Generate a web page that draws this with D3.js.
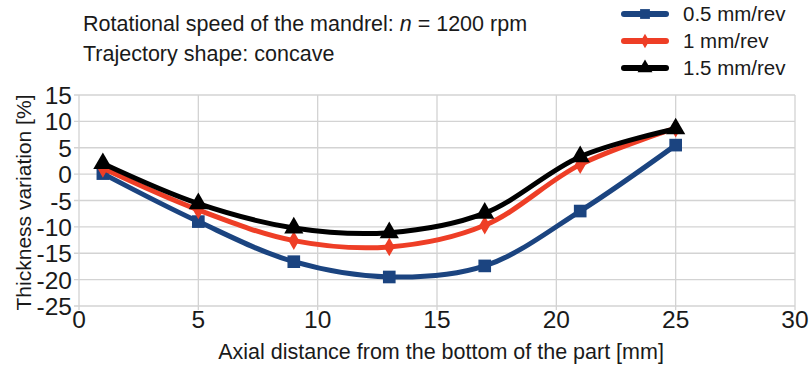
<!DOCTYPE html>
<html>
<head>
<meta charset="utf-8">
<script src="https://cdn.jsdelivr.net/npm/d3@7"></script>
<style>
  body { margin: 0; background: #fff; }
  text { font-family: "Liberation Sans", Arial, sans-serif; fill: #1a1a1a; }
  .tick { font-family: "Liberation Sans Narrow", "Arial Narrow", "Liberation Sans", sans-serif; }
</style>
</head>
<body>
<main></main>
<script>
// values
const distances = [1, 5, 9, 13, 17, 21, 25];
const feed05 = [0.1, -9.0, -16.6, -19.5, -17.4, -7.0, 5.5];
const feed10 = [1.1, -6.8, -12.6, -13.8, -9.7, 1.8, 8.7];
const feed15 = [2.0, -5.6, -10.2, -11.1, -7.4, 3.3, 8.6];
const seriesNames = ["0.5 mm/rev", "1 mm/rev", "1.5 mm/rev"];
const xTicks = [0, 5, 10, 15, 20, 25, 30];
const yTicks = [15, 10, 5, 0, -5, -10, -15, -20, -25];

const colours = ["#1b4480", "#ee3e26", "#000000"];
const symbols = [d3.symbolSquare, d3.symbolDiamond, d3.symbolTriangle];
const symbolSizes = [160, 100, 160];

const width = 809, height = 368;
const svg = d3.select("main").append("svg").attr("width", width).attr("height", height);

const x = d3.scaleLinear().domain([0, 30]).range([79, 795]);
const y = d3.scaleLinear().domain([-25, 15]).range([306, 95]);

// grid
svg.append("g").selectAll("line").data(yTicks).enter().append("line")
   .attr("x1", x(0) - 5).attr("x2", x(30))
   .attr("y1", d => y(d)).attr("y2", d => y(d))
   .attr("stroke", "#d3d3d3").attr("stroke-width", 1.3);
svg.append("g").selectAll("line").data(xTicks).enter().append("line")
   .attr("x1", d => x(d)).attr("x2", d => x(d))
   .attr("y1", y(15)).attr("y2", y(-25) + 4)
   .attr("stroke", "#d3d3d3").attr("stroke-width", 1.3);

// tick labels
svg.append("g").selectAll("text").data(yTicks).enter().append("text")
   .attr("class", "tick")
   .attr("x", x(0) - 7).attr("y", d => y(d) + 9)
   .attr("text-anchor", "end").attr("font-size", 24.5)
   .text(d => d);
svg.append("g").selectAll("text").data(xTicks).enter().append("text")
   .attr("class", "tick")
   .attr("x", d => x(d)).attr("y", y(-25) + 22)
   .attr("text-anchor", "middle").attr("font-size", 24.5)
   .text(d => d);

// axis titles
svg.append("text")
   .attr("transform", `translate(31,${(y(15) + y(-25)) / 2 + 2}) rotate(-90)`)
   .attr("text-anchor", "middle").attr("font-size", 21)
   .text("Thickness variation [%]");
svg.append("text")
   .attr("x", 441).attr("y", 359)
   .attr("text-anchor", "middle").attr("font-size", 21.5)
   .text("Axial distance from the bottom of the part [mm]");

// series
const allSeries = [feed05, feed10, feed15];
const line = d3.line()
   .x((d, i) => x(distances[i]))
   .y(d => y(d))
   .curve(d3.curveCatmullRom.alpha(0.5));

allSeries.forEach((vals, k) => {
  const g = svg.append("g");
  g.append("path").datum(vals)
   .attr("d", line)
   .attr("fill", "none").attr("stroke", colours[k])
   .attr("stroke-width", 5).attr("stroke-linejoin", "round");
  g.selectAll("path.pt").data(vals).enter().append("path")
   .attr("class", "pt")
   .attr("transform", (d, i) => `translate(${x(distances[i])},${y(d)})`)
   .attr("d", d3.symbol().type(symbols[k]).size(symbolSizes[k]))
   .attr("fill", colours[k]);
});

// header text
const header = svg.append("text").attr("x", 83).attr("y", 31).attr("font-size", 21.5);
header.append("tspan").text("Rotational speed of the mandrel:  ");
header.append("tspan").attr("font-style", "italic").text("n");
header.append("tspan").text(" = 1200 rpm");
svg.append("text").attr("x", 83).attr("y", 61).attr("font-size", 21.5)
   .text("Trajectory shape: concave");

// legend
const legend = svg.append("g").attr("id", "legend");
seriesNames.forEach((name, k) => {
  const ly = 14 + k * 27;
  legend.append("line")
     .attr("x1", 624).attr("x2", 666).attr("y1", ly).attr("y2", ly)
     .attr("stroke", colours[k]).attr("stroke-width", 6).attr("stroke-linecap", "round");
  legend.append("path")
     .attr("transform", `translate(645,${ly})`)
     .attr("d", d3.symbol().type(symbols[k]).size(symbolSizes[k] * 0.6))
     .attr("fill", colours[k]);
  legend.append("text")
     .attr("x", 683).attr("y", ly + 7).attr("font-size", 20.5)
     .text(name);
});
</script>
</body>
</html>
